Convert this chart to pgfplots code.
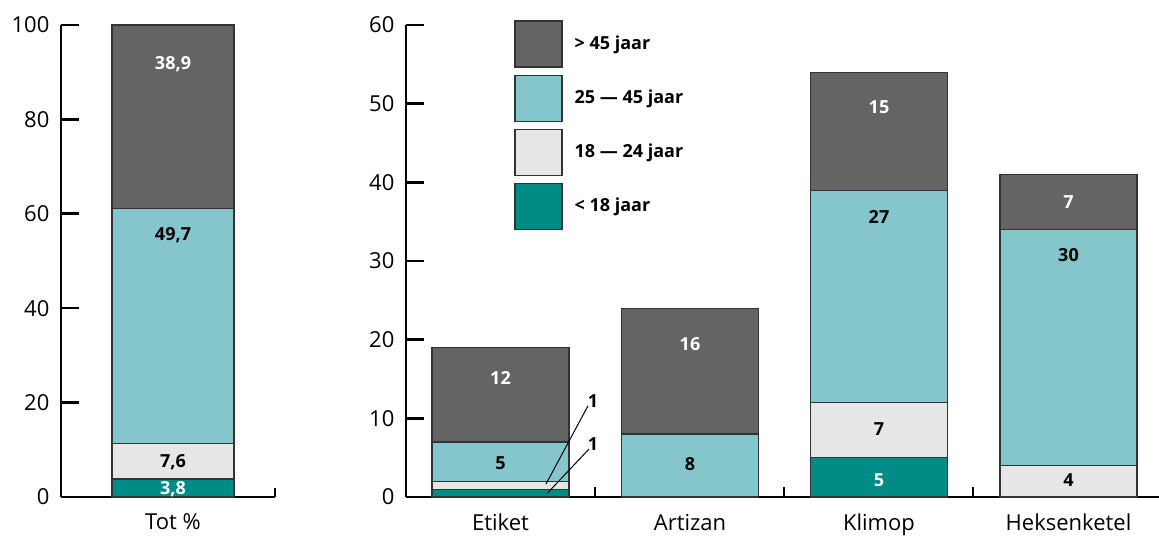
\documentclass[border=0pt]{standalone}
\usepackage{fontspec}
\setmainfont{Open Sans}
\usepackage{pgfplots}
\pgfplotsset{compat=1.18}
\definecolor{cOld}{HTML}{646464}
\definecolor{cMid}{HTML}{84C6CC}
\definecolor{cYoung}{HTML}{E6E6E6}
\definecolor{cKid}{HTML}{008B87}
\tikzset{vl/.style={font=\bfseries\fontsize{9}{10}\selectfont, inner sep=0pt},
  septick/.style={line width=1.3pt, black}}
\pgfplotsset{
  mybase/.style={
    scale only axis, height=236pt,
    axis lines=left, axis line style={-, line width=1.3pt},
    ymin=0,
    tick align=inside, major tick length=9pt,
    every tick/.style={black, line width=1.3pt},
    ticklabel style={font=\fontsize{11}{13}\selectfont},
    yticklabel style={xshift=-2.3pt},
    xticklabel style={yshift=-5pt},
    /pgf/number format/assume math mode=true,
    xtick style={draw=none},
    ybar stacked,
    clip=false,
    every axis plot/.append style={draw=black!80, line width=0.6pt},
  },
}
\begin{document}
\begin{tikzpicture}
\path[use as bounding box] (-30.5pt,-21pt) rectangle (549pt,248.5pt);
% Left axis: total percentages
\begin{axis}[mybase,
  at={(0pt,0pt)}, anchor=south west,
  width=107pt,
  xmin=61, xmax=275,
  ymax=100, ytick={0,20,40,60,80,100},
  xtick={173}, xticklabels={Tot \%},
  bar width=122,
]
\addplot[fill=cKid] coordinates {(173,3.8)};
\addplot[fill=cYoung] coordinates {(173,7.6)};
\addplot[fill=cMid] coordinates {(173,49.7)};
\addplot[fill=cOld] coordinates {(173,38.9)};
\coordinate (L1) at (axis cs:173,91.7);
\coordinate (L2) at (axis cs:173,55.5);
\coordinate (L3) at (axis cs:173,7.4);
\coordinate (L4) at (axis cs:173,1.7);
\coordinate (LT) at (axis cs:275,0);
\end{axis}
\node[vl, text=white] at (L1) {38,9};
\node[vl] at (L2) {49,7};
\node[vl] at (L3) {7,6};
\node[vl, text=white] at (L4) {3,8};
\draw[septick] (LT) -- ++(0,4.5pt);
% Right axis: counts per location
\begin{axis}[mybase,
  at={(172.5pt,0pt)}, anchor=south west,
  width=378pt,
  xmin=406, xmax=1162,
  ymax=60, ytick={0,10,20,30,40,50,60},
  xtick={500.5,690,879,1068.5},
  xticklabels={Etiket,Artizan,Klimop,Heksenketel},
  bar width=137,
  reverse legend,
  legend image code/.code={\draw[#1] (0pt,-11.5pt) rectangle (23.5pt,11.5pt);},
  legend cell align=left,
  legend style={at={(0.1429,1.0106)}, anchor=north west, draw=none, fill=none,
    inner sep=0pt, row sep=3.5pt, column sep=6pt,
    nodes={inner sep=0pt, font=\bfseries\fontsize{9}{10}\selectfont}},
]
\addplot[fill=cKid] coordinates {(500.5,1) (690,0) (879,5) (1068.5,0)};
\addlegendentry{< 18 jaar}
\addplot[fill=cYoung] coordinates {(500.5,1) (690,0) (879,7) (1068.5,4)};
\addlegendentry{18 — 24 jaar}
\addplot[fill=cMid] coordinates {(500.5,5) (690,8) (879,27) (1068.5,30)};
\addlegendentry{25 — 45 jaar}
\addplot[fill=cOld] coordinates {(500.5,12) (690,16) (879,15) (1068.5,7)};
\addlegendentry{> 45 jaar}
\coordinate (E1) at (axis cs:500.5,15.1);
\coordinate (E2) at (axis cs:500.5,4.3);
\coordinate (A1) at (axis cs:690,19.4);
\coordinate (A2) at (axis cs:690,4.2);
\coordinate (K1) at (axis cs:879,49.5);
\coordinate (K2) at (axis cs:879,35.6);
\coordinate (K3) at (axis cs:879,8.6);
\coordinate (K4) at (axis cs:879,2.1);
\coordinate (H1) at (axis cs:1068.5,37.5);
\coordinate (H2) at (axis cs:1068.5,30.7);
\coordinate (H3) at (axis cs:1068.5,2.1);
\coordinate (C1a) at (axis cs:546,1.65);
\coordinate (C1b) at (axis cs:588,11.6);
\coordinate (C2a) at (axis cs:547.5,0.5);
\coordinate (C2b) at (axis cs:589,6.1);
\coordinate (C1t) at (axis cs:593,12.2);
\coordinate (C2t) at (axis cs:593,6.7);
\coordinate (S1) at (axis cs:595,0);
\coordinate (S2) at (axis cs:784,0);
\coordinate (S3) at (axis cs:973,0);
\end{axis}
% value labels
\node[vl, text=white] at (E1) {12};
\node[vl] at (E2) {5};
\node[vl, text=white] at (A1) {16};
\node[vl] at (A2) {8};
\node[vl, text=white] at (K1) {15};
\node[vl] at (K2) {27};
\node[vl] at (K3) {7};
\node[vl, text=white] at (K4) {5};
\node[vl, text=white] at (H1) {7};
\node[vl] at (H2) {30};
\node[vl] at (H3) {4};
% callouts for the small Etiket segments
\draw[line width=0.5pt] (C1a) -- (C1b);
\draw[line width=0.5pt] (C2a) -- (C2b);
\node[vl] at (C1t) {1};
\node[vl] at (C2t) {1};
% category separator ticks
\draw[septick] (S1) -- ++(0,5pt);
\draw[septick] (S2) -- ++(0,5pt);
\draw[septick] (S3) -- ++(0,5pt);
\end{tikzpicture}
\end{document}
